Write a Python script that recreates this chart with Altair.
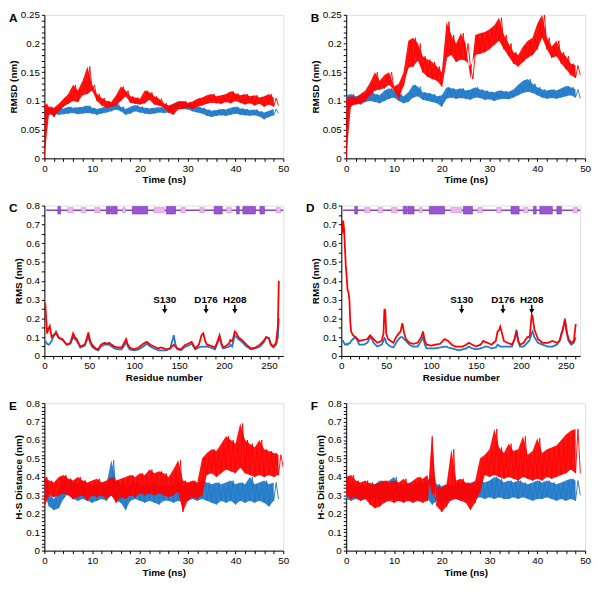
import altair as alt
import pandas as pd

FONT = "Liberation Sans"
RED = "#ff0000"
BLUE = "#1f78c8"
HELIX = "#9b55d2"
STRAND = "#ebb6ee"
SSLINE = "#8a45b8"

# ---------------- time grids (sampling every 0.5 ns) ----------------
t_std = [i * 0.5 for i in range(99)]     # 0 .. 49 ns
t_long = [i * 0.5 for i in range(101)]   # 0 .. 50 ns

# ---------------- Panel A: RMSD (nm) ----------------
A_red = [0.000, 0.095, 0.080, 0.090, 0.072, 0.088, 0.082, 0.095, 0.090, 0.104,
         0.095, 0.112, 0.100, 0.128, 0.098, 0.118, 0.110, 0.135, 0.112, 0.160,
         0.118, 0.128, 0.100, 0.112, 0.092, 0.105, 0.088, 0.100, 0.090, 0.098,
         0.092, 0.110, 0.100, 0.125, 0.108, 0.118, 0.097, 0.108, 0.095, 0.106,
         0.094, 0.104, 0.096, 0.118, 0.102, 0.115, 0.094, 0.108, 0.092, 0.104,
         0.088, 0.096, 0.080, 0.092, 0.076, 0.095, 0.085, 0.098, 0.086, 0.100,
         0.088, 0.097, 0.086, 0.099, 0.090, 0.104, 0.092, 0.106, 0.095, 0.110,
         0.097, 0.112, 0.096, 0.108, 0.095, 0.110, 0.098, 0.112, 0.096, 0.117,
         0.100, 0.113, 0.097, 0.110, 0.094, 0.112, 0.096, 0.108, 0.092, 0.110,
         0.095, 0.106, 0.090, 0.108, 0.094, 0.112, 0.090, 0.105, 0.092]
A_blue = [0.072, 0.085, 0.075, 0.088, 0.078, 0.086, 0.076, 0.088, 0.077, 0.087,
          0.078, 0.090, 0.079, 0.088, 0.077, 0.089, 0.078, 0.090, 0.079, 0.092,
          0.078, 0.088, 0.076, 0.086, 0.078, 0.088, 0.080, 0.091, 0.082, 0.094,
          0.085, 0.095, 0.082, 0.090, 0.076, 0.086, 0.078, 0.090, 0.082, 0.093,
          0.080, 0.090, 0.078, 0.088, 0.077, 0.087, 0.078, 0.088, 0.080, 0.089,
          0.079, 0.088, 0.080, 0.090, 0.082, 0.095, 0.088, 0.100, 0.086, 0.098,
          0.085, 0.095, 0.082, 0.092, 0.080, 0.090, 0.078, 0.088, 0.074, 0.085,
          0.072, 0.083, 0.074, 0.084, 0.075, 0.086, 0.074, 0.085, 0.076, 0.088,
          0.078, 0.090, 0.076, 0.087, 0.075, 0.086, 0.074, 0.084, 0.075, 0.085,
          0.073, 0.082, 0.068, 0.080, 0.072, 0.083, 0.075, 0.086, 0.078]

# ---------------- Panel B: RMSD (nm) ----------------
B_red = [0.000, 0.105, 0.092, 0.108, 0.094, 0.106, 0.095, 0.112, 0.100, 0.118,
         0.110, 0.132, 0.118, 0.150, 0.120, 0.135, 0.122, 0.145, 0.128, 0.150,
         0.118, 0.125, 0.104, 0.130, 0.126, 0.150, 0.158, 0.205, 0.160, 0.210,
         0.170, 0.200, 0.150, 0.178, 0.142, 0.172, 0.138, 0.168, 0.135, 0.160,
         0.125, 0.150, 0.175, 0.238, 0.180, 0.215, 0.168, 0.200, 0.172, 0.218,
         0.170, 0.200, 0.160, 0.138, 0.180, 0.215, 0.182, 0.218, 0.185, 0.220,
         0.190, 0.225, 0.198, 0.232, 0.205, 0.245, 0.190, 0.215, 0.178, 0.200,
         0.165, 0.185, 0.160, 0.180, 0.168, 0.195, 0.175, 0.205, 0.180, 0.210,
         0.190, 0.235, 0.210, 0.250, 0.190, 0.210, 0.175, 0.195, 0.178, 0.205,
         0.165, 0.185, 0.155, 0.178, 0.145, 0.165, 0.140, 0.162, 0.145]
B_blue = [0.080, 0.110, 0.090, 0.112, 0.096, 0.108, 0.094, 0.110, 0.098, 0.112,
          0.100, 0.118, 0.098, 0.112, 0.096, 0.110, 0.100, 0.118, 0.104, 0.122,
          0.106, 0.118, 0.100, 0.112, 0.096, 0.108, 0.098, 0.115, 0.106, 0.128,
          0.108, 0.125, 0.102, 0.115, 0.100, 0.114, 0.098, 0.112, 0.096, 0.108,
          0.090, 0.110, 0.104, 0.124, 0.106, 0.122, 0.104, 0.120, 0.105, 0.122,
          0.104, 0.118, 0.102, 0.120, 0.106, 0.124, 0.105, 0.120, 0.102, 0.118,
          0.103, 0.116, 0.100, 0.115, 0.103, 0.118, 0.104, 0.117, 0.103, 0.116,
          0.106, 0.120, 0.110, 0.128, 0.114, 0.135, 0.116, 0.138, 0.114, 0.130,
          0.110, 0.124, 0.106, 0.120, 0.104, 0.118, 0.105, 0.120, 0.104, 0.118,
          0.106, 0.122, 0.108, 0.126, 0.110, 0.124, 0.106, 0.120, 0.104]

# ---------------- Panel E: H-S distance (nm) ----------------
E_red = [0.24, 0.40, 0.30, 0.38, 0.29, 0.37, 0.30, 0.40, 0.31, 0.41,
         0.30, 0.39, 0.28, 0.38, 0.29, 0.40, 0.30, 0.38, 0.27, 0.37,
         0.30, 0.38, 0.29, 0.39, 0.30, 0.37, 0.28, 0.38, 0.30, 0.40,
         0.26, 0.38, 0.29, 0.39, 0.28, 0.40, 0.30, 0.41, 0.29, 0.40,
         0.31, 0.42, 0.30, 0.41, 0.31, 0.44, 0.30, 0.42, 0.31, 0.43,
         0.30, 0.42, 0.29, 0.40, 0.30, 0.44, 0.32, 0.49, 0.21, 0.38,
         0.27, 0.37, 0.29, 0.38, 0.28, 0.37, 0.30, 0.50, 0.41, 0.53,
         0.42, 0.55, 0.40, 0.54, 0.42, 0.58, 0.44, 0.62, 0.43, 0.60,
         0.42, 0.58, 0.45, 0.69, 0.42, 0.60, 0.41, 0.58, 0.40, 0.56,
         0.41, 0.60, 0.40, 0.55, 0.41, 0.54, 0.40, 0.53, 0.41, 0.52, 0.45]
E_blue = [0.30, 0.36, 0.24, 0.30, 0.22, 0.28, 0.23, 0.32, 0.28, 0.40,
          0.31, 0.39, 0.28, 0.37, 0.27, 0.36, 0.28, 0.38, 0.27, 0.36,
          0.26, 0.35, 0.27, 0.36, 0.28, 0.37, 0.27, 0.36, 0.30, 0.49,
          0.27, 0.38, 0.26, 0.36, 0.22, 0.34, 0.27, 0.36, 0.28, 0.37,
          0.27, 0.35, 0.26, 0.36, 0.27, 0.35, 0.26, 0.37, 0.25, 0.35,
          0.27, 0.36, 0.27, 0.35, 0.26, 0.36, 0.27, 0.37, 0.26, 0.35,
          0.27, 0.36, 0.28, 0.37, 0.27, 0.36, 0.28, 0.38, 0.27, 0.37,
          0.26, 0.36, 0.25, 0.37, 0.27, 0.36, 0.26, 0.37, 0.27, 0.38,
          0.25, 0.36, 0.27, 0.37, 0.26, 0.36, 0.27, 0.40, 0.26, 0.36,
          0.27, 0.37, 0.26, 0.38, 0.24, 0.36, 0.27, 0.37, 0.28]

# ---------------- Panel F: H-S distance (nm) ----------------
F_red = [0.30, 0.40, 0.28, 0.41, 0.29, 0.38, 0.27, 0.37, 0.28, 0.38,
         0.25, 0.36, 0.23, 0.36, 0.24, 0.37, 0.26, 0.38, 0.27, 0.37,
         0.26, 0.38, 0.27, 0.37, 0.26, 0.39, 0.27, 0.36, 0.26, 0.38,
         0.27, 0.40, 0.26, 0.39, 0.27, 0.41, 0.62, 0.30, 0.24, 0.35,
         0.21, 0.34, 0.24, 0.36, 0.28, 0.55, 0.28, 0.38, 0.27, 0.39,
         0.26, 0.37, 0.22, 0.36, 0.26, 0.38, 0.32, 0.50, 0.41, 0.52,
         0.40, 0.55, 0.41, 0.66, 0.40, 0.56, 0.39, 0.53, 0.40, 0.58,
         0.39, 0.54, 0.38, 0.55, 0.40, 0.62, 0.39, 0.52, 0.38, 0.54,
         0.39, 0.61, 0.38, 0.53, 0.40, 0.55, 0.39, 0.56, 0.40, 0.57,
         0.41, 0.60, 0.42, 0.63, 0.44, 0.65, 0.42, 0.66, 0.42]
F_blue = [0.28, 0.36, 0.27, 0.37, 0.28, 0.35, 0.27, 0.36, 0.28, 0.35,
          0.27, 0.37, 0.28, 0.36, 0.28, 0.38, 0.27, 0.37, 0.28, 0.38,
          0.28, 0.40, 0.27, 0.36, 0.27, 0.35, 0.28, 0.37, 0.27, 0.36,
          0.28, 0.37, 0.27, 0.36, 0.28, 0.38, 0.25, 0.40, 0.27, 0.36,
          0.26, 0.35, 0.27, 0.36, 0.27, 0.35, 0.28, 0.36, 0.27, 0.37,
          0.28, 0.36, 0.27, 0.37, 0.28, 0.37, 0.29, 0.38, 0.28, 0.37,
          0.29, 0.38, 0.28, 0.40, 0.29, 0.39, 0.28, 0.37, 0.28, 0.38,
          0.29, 0.37, 0.28, 0.38, 0.29, 0.37, 0.28, 0.36, 0.27, 0.37,
          0.28, 0.38, 0.28, 0.37, 0.29, 0.38, 0.28, 0.37, 0.27, 0.36,
          0.28, 0.37, 0.27, 0.38, 0.28, 0.39, 0.27, 0.38, 0.30]

# ---------------- Panel C: per-residue RMS (nm) ----------------
C_res = [1, 3, 5, 6, 8, 10, 13, 16, 20, 25, 29, 32, 34, 36, 40, 45, 47, 49, 51, 53,
         57, 60, 63, 67, 70, 72, 75, 78, 82, 86, 89, 91, 93, 95, 100, 105, 110, 114,
         118, 122, 127, 130, 133, 136, 140, 143, 144, 146, 148, 152, 157, 160, 162,
         164, 168, 172, 175, 177, 179, 181, 185, 190, 193, 195, 197, 199, 203, 206,
         207, 209, 210, 212, 214, 216, 220, 225, 230, 235, 240, 244, 247, 250, 252,
         255, 258, 260, 261]
C_red = [0.28, 0.12, 0.15, 0.16, 0.10, 0.11, 0.12, 0.095, 0.09, 0.06, 0.07, 0.12,
         0.10, 0.09, 0.05, 0.06, 0.09, 0.125, 0.08, 0.06, 0.04, 0.035, 0.06, 0.07,
         0.065, 0.07, 0.06, 0.05, 0.045, 0.045, 0.07, 0.09, 0.06, 0.045, 0.035,
         0.045, 0.065, 0.075, 0.06, 0.05, 0.04, 0.045, 0.04, 0.035, 0.04, 0.055,
         0.06, 0.05, 0.04, 0.035, 0.06, 0.065, 0.07, 0.075, 0.04, 0.06, 0.11, 0.12,
         0.08, 0.06, 0.055, 0.045, 0.08, 0.11, 0.07, 0.045, 0.055, 0.07, 0.085,
         0.08, 0.09, 0.13, 0.12, 0.10, 0.085, 0.06, 0.04, 0.045, 0.06, 0.08, 0.10,
         0.095, 0.065, 0.05, 0.07, 0.16, 0.40]
C_blue = [0.08, 0.065, 0.06, 0.065, 0.08, 0.10, 0.13, 0.10, 0.085, 0.06, 0.065,
          0.10, 0.09, 0.08, 0.045, 0.055, 0.08, 0.10, 0.07, 0.05, 0.035, 0.03, 0.05,
          0.06, 0.06, 0.06, 0.05, 0.04, 0.035, 0.035, 0.055, 0.075, 0.05, 0.035,
          0.03, 0.035, 0.05, 0.065, 0.05, 0.04, 0.03, 0.03, 0.03, 0.03, 0.04, 0.09,
          0.11, 0.06, 0.035, 0.03, 0.05, 0.055, 0.06, 0.065, 0.035, 0.045, 0.05,
          0.05, 0.05, 0.05, 0.045, 0.035, 0.07, 0.10, 0.06, 0.04, 0.045, 0.05, 0.06,
          0.05, 0.07, 0.11, 0.10, 0.09, 0.075, 0.05, 0.035, 0.04, 0.05, 0.07, 0.10,
          0.095, 0.06, 0.045, 0.06, 0.10, 0.20]

# ---------------- Panel D: per-residue RMS (nm) ----------------
D_res = [1, 2, 3, 4, 5, 6, 7, 8, 9, 10, 11, 13, 16, 20, 25, 29, 32, 34, 36, 40, 45,
         47, 48, 49, 50, 52, 55, 58, 61, 64, 66, 68, 70, 72, 76, 80, 85, 89, 91, 93,
         95, 100, 105, 110, 115, 117, 119, 123, 127, 131, 135, 139, 142, 146, 150,
         155, 158, 160, 163, 167, 172, 174, 176, 177, 179, 181, 185, 190, 193, 195,
         197, 199, 203, 207, 209, 210, 212, 213, 215, 219, 224, 230, 235, 240, 243,
         245, 247, 249, 251, 253, 256, 259, 261]
D_red = [0.65, 0.72, 0.68, 0.58, 0.48, 0.42, 0.35, 0.34, 0.30, 0.18, 0.13, 0.11,
         0.10, 0.08, 0.085, 0.09, 0.11, 0.10, 0.09, 0.07, 0.08, 0.12, 0.25, 0.24,
         0.12, 0.09, 0.08, 0.07, 0.10, 0.12, 0.13, 0.175, 0.12, 0.09, 0.07, 0.065,
         0.07, 0.10, 0.13, 0.08, 0.06, 0.055, 0.06, 0.065, 0.09, 0.085, 0.08, 0.06,
         0.05, 0.05, 0.05, 0.06, 0.07, 0.06, 0.05, 0.06, 0.08, 0.075, 0.07, 0.06,
         0.08, 0.13, 0.14, 0.155, 0.12, 0.08, 0.07, 0.06, 0.09, 0.13, 0.08, 0.06,
         0.07, 0.10, 0.10, 0.11, 0.22, 0.21, 0.14, 0.09, 0.07, 0.07, 0.08, 0.07,
         0.08, 0.11, 0.15, 0.19, 0.13, 0.09, 0.07, 0.08, 0.17]
D_blue = [0.08, 0.08, 0.07, 0.06, 0.06, 0.065, 0.06, 0.065, 0.07, 0.07, 0.08, 0.09,
          0.10, 0.06, 0.06, 0.07, 0.10, 0.09, 0.07, 0.05, 0.06, 0.08, 0.095, 0.09,
          0.07, 0.06, 0.05, 0.045, 0.07, 0.09, 0.10, 0.10, 0.09, 0.08, 0.06, 0.05,
          0.05, 0.08, 0.10, 0.06, 0.04, 0.04, 0.04, 0.045, 0.05, 0.05, 0.045, 0.04,
          0.035, 0.03, 0.035, 0.04, 0.05, 0.04, 0.035, 0.04, 0.045, 0.05, 0.05, 0.04,
          0.045, 0.06, 0.055, 0.05, 0.05, 0.05, 0.05, 0.05, 0.09, 0.14, 0.08, 0.05,
          0.05, 0.07, 0.08, 0.09, 0.12, 0.13, 0.10, 0.07, 0.06, 0.05, 0.05, 0.06,
          0.08, 0.12, 0.14, 0.20, 0.12, 0.08, 0.06, 0.07, 0.10]

# ---------------- secondary structure (residue ranges) ----------------
helix_start = [15, 69, 74, 98, 136, 189, 214, 221, 240]
helix_end = [18, 73, 81, 115, 146, 198, 217, 235, 245]
strand_start = [26, 41, 56, 87, 122, 152, 173, 203, 258]
strand_end = [32, 46, 62, 90, 134, 157, 178, 208, 263]
ss_line = [2, 266]
ss_level = 0.775

# ---------------- active-site annotations ----------------
annot_labels = ["S130", "D176", "H208"]
annot_pos = [134, 180, 212]

# ======================================================================
AX = dict(grid=False, tickSize=3, tickColor="black", domainColor="black",
          labelColor="black", titleColor="black", labelFont=FONT, titleFont=FONT,
          labelFontSize=10, titleFontSize=10, titleFontWeight="bold",
          labelFlush=False, labelOverlap=False, labelPadding=2, titlePadding=2)


def time_axis():
    return alt.Axis(title="Time (ns)", values=list(range(0, 51, 2)),
                    labelExpr="datum.value % 10 === 0 ? datum.label : ''", **AX)


def res_axis():
    return alt.Axis(title="Residue number", values=list(range(0, 261, 10)),
                    labelExpr="datum.value % 50 === 0 ? datum.label : ''", **AX)


def y_axis(title, top, step, label_every):
    n = int(round(top / step))
    vals = [round(i * step, 3) for i in range(n + 1)]
    expr = ("round(datum.value*1000) %% %d === 0 ? datum.label : ''"
            % int(round(label_every * 1000)))
    return alt.Axis(title=title, values=vals, format=".2~f", labelExpr=expr, **AX)


def line_layer(xs, ys, color, xsc, ysc, xax, yax, sw):
    df = pd.DataFrame({"x": xs, "y": ys})
    return alt.Chart(df).mark_line(color=color, strokeWidth=sw, clip=True).encode(
        x=alt.X("x:Q", scale=xsc, axis=xax),
        y=alt.Y("y:Q", scale=ysc, axis=yax))


def band_layer(xs, ys, color, xsc, ysc, xax, yax):
    # fill between the alternating low / high samples of the noisy trace
    lo = ys[0::2]
    hi = ys[1::2]
    n = min(len(lo), len(hi))
    df = pd.DataFrame({"x": xs[0::2][:n], "lo": lo[:n], "hi": hi[:n]})
    return alt.Chart(df).mark_area(color=color, opacity=0.92, clip=True).encode(
        x=alt.X("x:Q", scale=xsc, axis=xax),
        y=alt.Y("lo:Q", scale=ysc, axis=yax), y2="hi:Q")


def letter_layer(letter):
    df = pd.DataFrame({"l": [letter]})
    return alt.Chart(df).mark_text(font=FONT, fontSize=12, fontWeight="bold",
                                   align="left", baseline="middle", color="black").encode(
        x=alt.value(-36), y=alt.value(3), text="l:N")


def time_panel(letter, t_b, blue, t_r, red, ytitle, ytop, ystep, ylab, w, h):
    xsc = alt.Scale(domain=[0, 50], nice=False, zero=False)
    ysc = alt.Scale(domain=[0, ytop], nice=False)
    xax = time_axis()
    yax = y_axis(ytitle, ytop, ystep, ylab)
    return alt.layer(
        band_layer(t_b, blue, BLUE, xsc, ysc, xax, yax),
        line_layer(t_b, blue, BLUE, xsc, ysc, xax, yax, 0.9),
        band_layer(t_r, red, RED, xsc, ysc, xax, yax),
        line_layer(t_r, red, RED, xsc, ysc, xax, yax, 0.9),
        letter_layer(letter),
    ).properties(width=w, height=h)


def rms_panel(letter, res, blue, red, w, h):
    xsc = alt.Scale(domain=[0, 266], nice=False, zero=False)
    ysc = alt.Scale(domain=[0, 0.8], nice=False)
    xax = res_axis()
    yax = y_axis("RMS (nm)", 0.8, 0.05, 0.1)

    line_df = pd.DataFrame({"x": [ss_line[0]], "x2": [ss_line[1]], "y": [ss_level]})
    base = alt.Chart(line_df).mark_rule(color=SSLINE, strokeWidth=1.5).encode(
        x=alt.X("x:Q", scale=xsc, axis=xax), x2="x2:Q",
        y=alt.Y("y:Q", scale=ysc, axis=yax))

    hel_df = pd.DataFrame({"x": helix_start, "x2": helix_end,
                           "y": [ss_level - 0.02] * len(helix_start),
                           "y2": [ss_level + 0.02] * len(helix_start)})
    hel = alt.Chart(hel_df).mark_rect(fill=HELIX, stroke="#7a35b0", strokeWidth=0.6).encode(
        x=alt.X("x:Q", scale=xsc, axis=xax), x2="x2:Q",
        y=alt.Y("y:Q", scale=ysc, axis=yax), y2="y2:Q")

    str_df = pd.DataFrame({"x": strand_start, "x2": strand_end,
                           "y": [ss_level - 0.014] * len(strand_start),
                           "y2": [ss_level + 0.014] * len(strand_start)})
    strd = alt.Chart(str_df).mark_rect(fill=STRAND, stroke="#c58fd6", strokeWidth=0.6,
                                       clip=True).encode(
        x=alt.X("x:Q", scale=xsc, axis=xax), x2="x2:Q",
        y=alt.Y("y:Q", scale=ysc, axis=yax), y2="y2:Q")

    ann_df = pd.DataFrame({"x": annot_pos, "label": annot_labels,
                           "ty": [0.30] * 3, "a1": [0.272] * 3, "a2": [0.242] * 3,
                           "ah": [0.238] * 3})
    ann_txt = alt.Chart(ann_df).mark_text(font=FONT, fontSize=10, fontWeight="bold",
                                          color="black", baseline="middle").encode(
        x=alt.X("x:Q", scale=xsc, axis=xax), y=alt.Y("ty:Q", scale=ysc, axis=yax),
        text="label:N")
    ann_rule = alt.Chart(ann_df).mark_rule(color="black", strokeWidth=1.6).encode(
        x=alt.X("x:Q", scale=xsc, axis=xax), y=alt.Y("a1:Q", scale=ysc, axis=yax),
        y2="a2:Q")
    ann_head = alt.Chart(ann_df).mark_point(shape="triangle-down", filled=True,
                                            color="black", size=28, opacity=1).encode(
        x=alt.X("x:Q", scale=xsc, axis=xax), y=alt.Y("ah:Q", scale=ysc, axis=yax))

    return alt.layer(
        base, strd, hel,
        line_layer(res, blue, BLUE, xsc, ysc, xax, yax, 1.8),
        line_layer(res, red, RED, xsc, ysc, xax, yax, 1.8),
        ann_rule, ann_head, ann_txt,
        letter_layer(letter),
    ).properties(width=w, height=h)


W = 243
pA = time_panel("A", t_std, A_blue, t_std, A_red, "RMSD (nm)", 0.25, 0.01, 0.05, W, 146)
pB = time_panel("B", t_std, B_blue, t_std, B_red, "RMSD (nm)", 0.25, 0.01, 0.05, W, 146)
pC = rms_panel("C", C_res, C_blue, C_red, W, 153)
pD = rms_panel("D", D_res, D_blue, D_red, W, 153)
pE = time_panel("E", t_std, E_blue, t_long, E_red, "H-S Distance (nm)", 0.8, 0.02, 0.1, W, 150)
pF = time_panel("F", t_std, F_blue, t_std, F_red, "H-S Distance (nm)", 0.8, 0.02, 0.1, W, 150)

chart = alt.vconcat(
    alt.hconcat(pA, pB, spacing=20),
    alt.hconcat(pC, pD, spacing=20),
    alt.hconcat(pE, pF, spacing=20),
    spacing=14,
).properties(
    padding={"top": -4, "left": 0, "right": 0, "bottom": 0},
    background="white",
).configure_view(
    stroke="black", strokeWidth=1
).configure(font=FONT)

chart.save("out.html", embed_options={"renderer": "svg", "actions": False})
